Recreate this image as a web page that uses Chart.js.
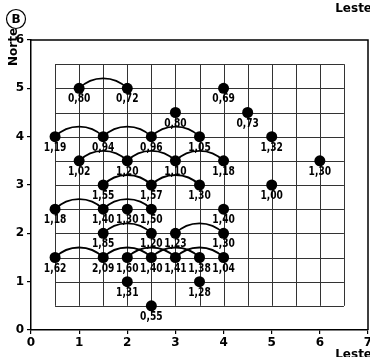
<!DOCTYPE html>
<html><head><meta charset="utf-8">
<script src="https://cdn.jsdelivr.net/npm/chart.js@4"></script>
<style>html,body{margin:0;padding:0;background:#fff;}#wrap{width:370px;height:357px;position:relative;}</style>
</head><body><div id="wrap"><canvas id="c" width="370" height="357"></canvas></div>
<script>
// Data
const ptX = [1,2,4, 3,4.5, 0.5,1.5,2.5,3.5,5, 1,2,3,4,6, 1.5,2.5,3.5,5, 0.5,1.5,2,2.5,4, 1.5,2.5,3,4, 0.5,1.5,2,2.5,3,3.5,4, 2,3.5, 2.5];
const ptY = [5,5,5, 4.5,4.5, 4,4,4,4,4, 3.5,3.5,3.5,3.5,3.5, 3,3,3,3, 2.5,2.5,2.5,2.5,2.5, 2,2,2,2, 1.5,1.5,1.5,1.5,1.5,1.5,1.5, 1,1, 0.5];
const ptLabels = ["0,80","0,72","0,69", "0,80","0,73", "1,19","0,94","0,96","1,05","1,32", "1,02","1,20","1,10","1,18","1,30", "1,55","1,57","1,30","1,00", "1,18","1,40","1,30","1,50","1,40", "1,85","1,20","1,23","1,30", "1,62","2,09","1,60","1,40","1,41","1,38","1,04", "1,31","1,28", "0,55"];
// Arcs linking points (same row)
const arcY  = [5, 4,4,4, 3.5,3.5,3.5, 3,3, 2.5,2.5, 2,2, 1.5,1.5,1.5,1.5,1.5];
const arcX1 = [1, 0.5,1.5,2.5, 1,2,3, 1.5,2.5, 0.5,1.5, 1.5,3, 0.5,1.5,2,2.5,3];
const arcX2 = [2, 1.5,2.5,3.5, 2,3,4, 2.5,3.5, 1.5,2.5, 2.5,4, 1.5,2.5,3,3.5,4];
// Inner grid extent
const gridXMin = 0.5, gridXMax = 6.5, gridYMin = 0.5, gridYMax = 5.5, gridStep = 0.5;
const xTicks = [0,1,2,3,4,5,6,7];
const yTicks = [0,1,2,3,4,5,6];

const FONT = "'DejaVu Sans',sans-serif";

const overlay = {
  id: 'overlay',
  beforeDatasetsDraw(chart) {
    const {ctx, chartArea: a, scales: {x, y}} = chart;
    ctx.save();
    ctx.strokeStyle = '#333';
    ctx.lineWidth = 1;
    for (let v = gridXMin; v <= gridXMax + 1e-9; v += gridStep) {
      const px = Math.round(x.getPixelForValue(v)) + 0.5;
      ctx.beginPath(); ctx.moveTo(px, y.getPixelForValue(gridYMin)); ctx.lineTo(px, y.getPixelForValue(gridYMax)); ctx.stroke();
    }
    for (let v = gridYMin; v <= gridYMax + 1e-9; v += gridStep) {
      const py = Math.round(y.getPixelForValue(v)) + 0.5;
      ctx.beginPath(); ctx.moveTo(x.getPixelForValue(gridXMin), py); ctx.lineTo(x.getPixelForValue(gridXMax), py); ctx.stroke();
    }
    ctx.strokeStyle = '#000';
    ctx.lineWidth = 1.5;
    ctx.beginPath();
    ctx.moveTo(a.left, a.top); ctx.lineTo(a.right, a.top); ctx.lineTo(a.right, a.bottom);
    ctx.stroke();
    ctx.lineWidth = 1.8;
    const rise = 10;
    for (let i = 0; i < arcY.length; i++) {
      const x1 = x.getPixelForValue(arcX1[i]), x2 = x.getPixelForValue(arcX2[i]);
      const py = y.getPixelForValue(arcY[i]);
      const half = (x2 - x1) / 2;
      const r = (half * half + rise * rise) / (2 * rise);
      const cx = (x1 + x2) / 2, cy = py - rise + r;
      const a1 = Math.atan2(py - cy, x1 - cx), a2 = Math.atan2(py - cy, x2 - cx);
      ctx.beginPath(); ctx.arc(cx, cy, r, a1, a2); ctx.stroke();
    }
    ctx.restore();
  },
  afterDatasetsDraw(chart) {
    const {ctx, scales: {x, y}} = chart;
    ctx.save();
    ctx.fillStyle = '#000';
    ctx.font = "bold 12px " + FONT;
    ctx.textAlign = 'center';
    ctx.textBaseline = 'top';
    for (let i = 0; i < ptX.length; i++) {
      ctx.save();
      ctx.translate(x.getPixelForValue(ptX[i]), y.getPixelForValue(ptY[i]) + 5);
      ctx.scale(0.76, 1);
      ctx.fillText(ptLabels[i], 0, 0);
      ctx.restore();
    }
    ctx.textAlign = 'right';
    ctx.textBaseline = 'top';
    ctx.fillText('Leste', 372, 349);
    ctx.textBaseline = 'alphabetic';
    ctx.fillText('Leste', 372, 12);
    ctx.save();
    ctx.translate(17, 47);
    ctx.rotate(-Math.PI / 2);
    ctx.textAlign = 'center';
    ctx.fillText('Norte', 0, 0);
    ctx.restore();
    ctx.lineWidth = 1.2;
    ctx.beginPath(); ctx.arc(16, 19, 9.5, 0, Math.PI * 2); ctx.stroke();
    ctx.textAlign = 'center'; ctx.textBaseline = 'middle';
    ctx.fillText('B', 16, 19.5);
    ctx.restore();
  }
};

const tickFont = {family: FONT, size: 12, weight: 'bold'};
new Chart(document.getElementById('c'), {
  type: 'scatter',
  data: {
    datasets: [{
      data: ptX.map((v, i) => ({x: v, y: ptY[i]})),
      pointRadius: 5.5,
      pointBackgroundColor: '#000',
      pointBorderColor: '#000',
      pointBorderWidth: 0,
      showLine: false
    }]
  },
  options: {
    responsive: false,
    animation: false,
    layout: {autoPadding: false, padding: {top: 40, right: 2, left: 0, bottom: 0}},
    plugins: {legend: {display: false}, tooltip: {enabled: false}},
    scales: {
      x: {
        type: 'linear', min: 0, max: 7,
        afterBuildTicks(s) { s.ticks = xTicks.map(v => ({value: v})); },
        ticks: {font: tickFont, color: '#000', padding: 2, maxRotation: 0},
        grid: {drawOnChartArea: false, drawTicks: true, tickLength: 4, color: '#000', lineWidth: 1.2},
        border: {color: '#000', width: 1.5},
        afterFit(s) { s.height = 27; s.paddingLeft = 0; s.paddingRight = 0; }
      },
      y: {
        type: 'linear', min: 0, max: 6,
        afterBuildTicks(s) { s.ticks = yTicks.map(v => ({value: v})); },
        ticks: {font: tickFont, color: '#000', padding: 3},
        grid: {drawOnChartArea: false, drawTicks: true, tickLength: 4, color: '#000', lineWidth: 1.2},
        border: {color: '#000', width: 1.5},
        afterFit(s) { s.width = 31; s.paddingTop = 0; s.paddingBottom = 0; }
      }
    }
  },
  plugins: [overlay]
});
</script>
</body></html>
